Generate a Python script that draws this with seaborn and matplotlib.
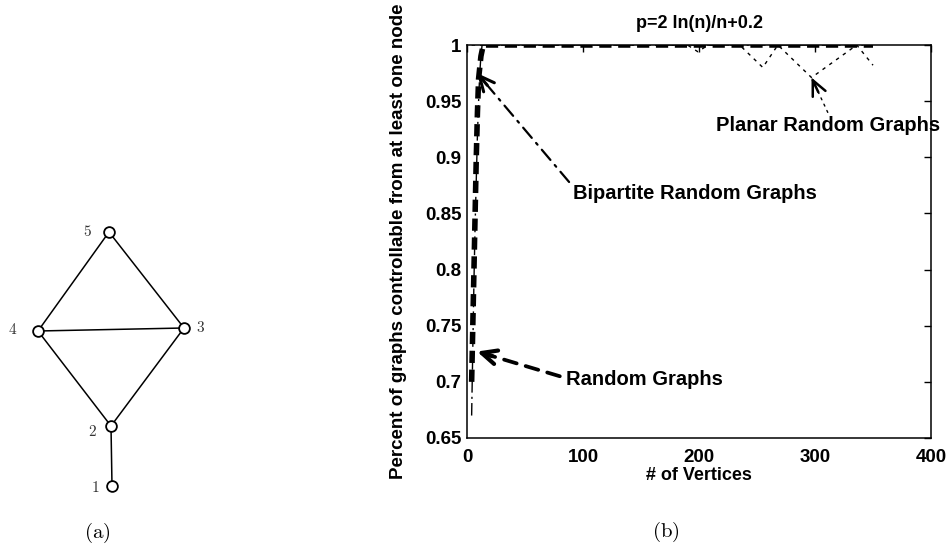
import matplotlib
matplotlib.use("Agg")
import numpy as np
import pandas as pd
import matplotlib.pyplot as plt
import seaborn as sns

# ---------------- data ----------------
# panel (a): small graph (positions in panel pixel units)
node_names = ["1", "2", "3", "4", "5"]
node_x = [112, 111, 184, 38, 109]
node_y = [486, 426, 328, 331, 232]
label_x = [95, 92, 200, 13, 87]
label_y = [488, 431, 328, 330, 232]
edges = [(1, 2), (2, 3), (2, 4), (3, 4), (3, 5), (4, 5)]

# panel (b): percent of controllable graphs
random_n = [4, 5, 6, 7, 8, 9, 10, 11, 12, 14, 350]
random_p = [0.70, 0.75, 0.80, 0.85, 0.90, 0.94, 0.97, 0.98, 0.99, 1.0, 1.0]

bipartite_n = [4, 5, 6, 7, 8, 9, 10, 11, 12, 13, 350]
bipartite_p = [0.67, 0.73, 0.79, 0.84, 0.88, 0.92, 0.95, 0.975, 0.99, 1.0, 1.0]

planar_n = [4, 190, 199, 208, 235, 255, 268, 297, 336, 350]
planar_p = [1.0, 1.0, 0.994, 1.0, 1.0, 0.98, 1.0, 0.971, 1.0, 0.982]

xticks = [0, 100, 200, 300, 400]
yticks = [0.65, 0.70, 0.75, 0.80, 0.85, 0.90, 0.95, 1.00]
ytick_labels = ["0.65", "0.7", "0.75", "0.8", "0.85", "0.9", "0.95", "1"]

title = "p=2 ln(n)/n+0.2"
xlabel = "# of Vertices"
ylabel = "Percent of graphs controllable from at least one node"

# annotations: (text, text position, arrow tail, arrow tip)
ann_labels = ["Bipartite Random Graphs", "Random Graphs", "Planar Random Graphs"]
ann_text_xy = [(91.4, 0.868), (85.3, 0.702), (214.7, 0.928)]
ann_tail_xy = [(88.0, 0.878), (80.0, 0.705), (311.0, 0.940)]
ann_tip_xy = [(8.6, 0.975), (8.6, 0.727), (297.0, 0.971)]

# ---------------- style ----------------
sns.set_theme(style="white")
plt.rcParams["font.family"] = ["Liberation Sans", "DejaVu Sans"]
plt.rcParams["mathtext.fontset"] = "cm"
plt.rcParams["lines.solid_capstyle"] = "butt"
plt.rcParams["text.color"] = "black"
plt.rcParams["axes.labelcolor"] = "black"
plt.rcParams["xtick.color"] = "black"
plt.rcParams["ytick.color"] = "black"

W, H = 949, 557
fig = plt.figure(figsize=(W / 100, H / 100), dpi=100)
fig.patch.set_facecolor("white")

# ---------------- panel (a) ----------------
axa = fig.add_axes([0, 0, 250 / W, 1])
axa.set_xlim(0, 250)
axa.set_ylim(H, 0)
axa.axis("off")
for a, b in edges:
    axa.plot([node_x[a - 1], node_x[b - 1]], [node_y[a - 1], node_y[b - 1]],
             color="black", lw=1.1, zorder=1)
nodes_df = pd.DataFrame({"x": node_x, "y": node_y})
sns.scatterplot(data=nodes_df, x="x", y="y", ax=axa, s=60, facecolor="white",
                edgecolor="black", linewidth=1.3, zorder=3, legend=False)
for nm, lx, ly in zip(node_names, label_x, label_y):
    axa.text(lx, ly, "$" + nm + "$", fontsize=11, ha="center", va="center",
             color="#333333")
axa.set_xlabel("")
axa.set_ylabel("")

# ---------------- panel (b) ----------------
L, R, T, B = 467, 931, 45, 438
ax = fig.add_axes([L / W, 1 - B / H, (R - L) / W, (B - T) / H])

df_r = pd.DataFrame({"n": random_n, "p": random_p})
df_b = pd.DataFrame({"n": bipartite_n, "p": bipartite_p})
df_p = pd.DataFrame({"n": planar_n, "p": planar_p})

sns.lineplot(data=df_p, x="n", y="p", ax=ax, color="black", lw=1.0,
             linestyle=(0, (2.5, 3.5)), sort=False, estimator=None, zorder=2)
sns.lineplot(data=df_b, x="n", y="p", ax=ax, color="black", lw=1.0,
             linestyle=(0, (9, 3, 1.5, 3)), sort=False, estimator=None, zorder=3)
sns.lineplot(data=df_r, x="n", y="p", ax=ax, color="black", lw=4.0,
             linestyle=(0, (2.2, 1.2)), sort=False, estimator=None, zorder=4)

ax.set_xlim(0, 400)
ax.set_ylim(0.65, 1.0)
ax.set_xticks(xticks)
ax.set_xticklabels([str(t) for t in xticks])
ax.set_yticks(yticks)
ax.set_yticklabels(ytick_labels)
ax.tick_params(axis="both", which="both", direction="in", length=5, width=1,
               top=True, right=True, labelsize=13.5, colors="black")
ax.tick_params(axis="x", pad=8)
ax.tick_params(axis="y", pad=4)
for lab in ax.get_xticklabels() + ax.get_yticklabels():
    lab.set_fontweight("bold")
for sp in ax.spines.values():
    sp.set_visible(True)
    sp.set_color("black")
    sp.set_linewidth(1.1)
ax.grid(False)

ax.set_title(title, fontsize=13, fontweight="bold", pad=12, color="black")
ax.set_xlabel(xlabel, fontsize=13, fontweight="bold", labelpad=1)
ax.set_ylabel(ylabel, fontsize=13.5, fontweight="bold")
ax.yaxis.set_label_coords(-0.13, 0.50)

styles = [dict(ls=(0, (6, 3, 1, 3)), lw=1.6, hlw=2.2),
          dict(ls=(0, (3.5, 2.5)), lw=2.7, hlw=3.0),
          dict(ls=(0, (1.5, 3.5)), lw=1.0, hlw=1.8)]

fig.canvas.draw()
for lab, txy, tail, tip, st in zip(ann_labels, ann_text_xy, ann_tail_xy,
                                  ann_tip_xy, styles):
    ax.text(txy[0], txy[1], lab, fontsize=14.5, fontweight="bold",
            ha="left", va="center", zorder=6, color="black")
    ax.annotate("", xy=tip, xytext=tail, xycoords="data", textcoords="data",
                arrowprops=dict(arrowstyle="-", linestyle=st["ls"], lw=st["lw"],
                                color="black", shrinkA=0, shrinkB=0), zorder=6)
    p_tip = ax.transData.transform(tip)
    p_tail = ax.transData.transform(tail)
    d = p_tip - p_tail
    u = d / np.hypot(*d)
    back = -16 * u
    ax.annotate("", xy=tip, xytext=(back[0], back[1]), xycoords="data",
                textcoords="offset pixels",
                arrowprops=dict(arrowstyle="->,head_length=0.6,head_width=0.28",
                                lw=st["hlw"], color="black",
                                shrinkA=0, shrinkB=0, mutation_scale=18),
                zorder=7)

fig.text(97 / W, 1 - 533 / H, r"$\mathrm{(a)}$", fontsize=15, ha="center",
         va="center")
fig.text(666 / W, 1 - 532 / H, r"$\mathrm{(b)}$", fontsize=15, ha="center",
         va="center")

fig.savefig("out.png", dpi=100, facecolor="white")
